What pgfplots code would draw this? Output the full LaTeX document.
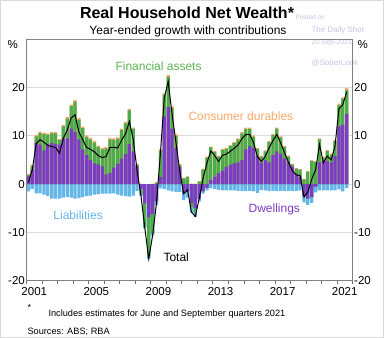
\documentclass[border=0pt]{standalone}
\usepackage{pgfplots}
\usepackage{pgfplotstable}
\pgfplotsset{compat=1.18}
\usepackage{fontspec}
\setmainfont{Liberation Sans}
\definecolor{dwell}{RGB}{125,60,195}
\definecolor{fin}{RGB}{76,172,76}
\definecolor{finlab}{RGB}{90,182,80}
\definecolor{cdur}{RGB}{250,168,105}
\definecolor{liab}{RGB}{100,182,232}
\definecolor{wm}{RGB}{196,196,228}
\pgfplotstableread{
x D F O L T
2001.125 1.6 0.3 0.2 -1.5 0.4
2001.375 3.0 0.8 0.2 -1.0 3.0
2001.625 8.6 1.3 0.3 -1.9 8.4
2001.875 8.2 2.4 0.3 -1.9 9.2
2002.125 7.0 3.4 0.3 -2.2 8.7
2002.375 8.3 1.9 0.3 -2.5 8.0
2002.625 8.5 2.0 0.3 -3.0 7.8
2002.875 8.3 2.2 0.3 -3.0 7.6
2003.125 8.2 0.9 0.3 -3.0 6.4
2003.375 9.4 2.6 0.3 -2.8 9.5
2003.625 9.5 4.1 0.3 -2.7 11.2
2003.875 11.5 4.7 0.3 -2.8 13.7
2004.125 10.8 6.3 0.3 -3.0 14.4
2004.375 9.3 4.1 0.3 -2.9 10.8
2004.625 7.2 4.4 0.3 -2.7 9.2
2004.875 6.0 3.8 0.3 -2.5 7.6
2005.125 5.0 4.3 0.3 -2.4 7.2
2005.375 4.3 4.3 0.3 -2.2 6.7
2005.625 4.1 3.6 0.3 -2.1 5.9
2005.875 3.7 3.5 0.3 -2.0 5.5
2006.125 2.0 5.4 0.3 -2.0 5.7
2006.375 2.3 7.0 0.3 -2.0 7.6
2006.625 3.4 5.8 0.3 -1.9 7.6
2006.875 4.2 5.2 0.3 -2.2 7.5
2007.125 5.3 5.9 0.3 -2.4 9.1
2007.375 6.2 6.4 0.3 -2.5 10.4
2007.625 8.3 7.0 0.3 -2.6 13.0
2007.875 6.8 4.6 0.3 -2.4 9.3
2008.125 3.7 0.3 0.2 -1.4 2.8
2008.375 -1.0 -1.2 0.1 -0.3 -2.4
2008.625 -4.0 -4.8 0.0 -0.4 -9.2
2008.875 -6.9 -8.1 0.0 -0.5 -15.5
2009.125 -6.2 -4.0 0.1 -0.5 -10.6
2009.375 -3.6 0.3 0.1 -0.7 -3.9
2009.625 1.5 5.5 0.2 -0.9 6.3
2009.875 14.0 4.5 0.3 -1.0 17.8
2010.125 16.0 6.3 0.3 -1.3 21.3
2010.375 11.5 4.3 0.3 -1.5 14.6
2010.625 7.5 2.5 0.3 -1.6 8.7
2010.875 3.5 0.5 0.2 -1.6 2.6
2011.125 -1.8 1.2 0.1 -1.5 -2.0
2011.375 -1.5 1.5 0.1 -1.3 -1.2
2011.625 -4.0 -0.8 0.1 -1.1 -5.8
2011.875 -5.0 -0.9 0.1 -0.9 -6.7
2012.125 -3.0 0.5 0.1 -0.6 -3.0
2012.375 -1.5 3.0 0.2 -0.5 1.2
2012.625 -0.8 5.5 0.2 -0.5 4.4
2012.875 0.8 6.8 0.2 -0.9 6.9
2013.125 1.5 5.2 0.2 -1.0 5.9
2013.375 2.3 3.4 0.2 -1.2 4.7
2013.625 2.8 4.3 0.2 -1.3 6.0
2013.875 3.5 3.8 0.2 -1.3 6.2
2014.125 4.0 3.9 0.2 -1.3 6.8
2014.375 4.3 4.2 0.2 -1.3 7.4
2014.625 4.5 4.8 0.2 -1.4 8.1
2014.875 5.0 5.5 0.3 -1.4 9.4
2015.125 7.2 4.2 0.3 -1.4 10.3
2015.375 7.9 3.5 0.3 -1.4 10.3
2015.625 7.5 2.3 0.3 -1.5 8.6
2015.875 5.8 1.5 0.2 -1.8 5.7
2016.125 4.4 1.3 0.2 -1.2 4.7
2016.375 5.0 1.8 0.2 -1.3 5.7
2016.625 4.5 4.2 0.2 -1.4 7.5
2016.875 6.0 4.2 0.2 -1.4 9.0
2017.125 6.8 4.7 0.2 -1.4 10.3
2017.375 6.3 3.4 0.2 -1.4 8.5
2017.625 5.3 2.4 0.2 -1.4 6.5
2017.875 4.6 1.1 0.2 -1.4 4.5
2018.125 3.6 0.5 0.1 -1.4 2.8
2018.375 2.2 1.0 0.1 -1.4 1.9
2018.625 1.5 1.5 0.1 -1.3 1.8
2018.875 -2.5 1.0 0.1 -1.3 -2.7
2019.125 -3.0 2.6 0.1 -1.3 -1.6
2019.375 -2.7 4.8 0.1 -1.2 1.0
2019.625 -0.5 4.6 0.1 -1.2 3.0
2019.875 4.5 4.8 0.2 -1.3 8.2
2020.125 5.0 0.5 0.2 -1.3 4.4
2020.375 4.8 2.1 0.2 -1.3 5.8
2020.625 4.5 1.6 0.2 -1.3 5.0
2020.875 5.8 3.1 0.3 -1.3 7.9
2021.125 12.0 4.4 0.3 -1.1 15.6
2021.375 12.3 5.4 0.3 -1.5 16.5
2021.625 14.5 5.0 0.4 -0.8 19.1
}\wealth
\begin{document}
\begin{tikzpicture}
\useasboundingbox (0,0) rectangle (384pt,338pt);
\draw[gray!30, line width=1pt] (0.5pt,0.5pt) rectangle (383.5pt,337.5pt);
% watermark
\node[wm, font=\fontsize{6.5}{7}\selectfont, anchor=base west] at (292pt,318pt) {Posted on};
\node[wm, font=\fontsize{8}{9}\selectfont, anchor=base west] at (308pt,305pt) {The Daily Shot};
\node[wm, font=\fontsize{7}{8}\selectfont, anchor=base west] at (308pt,293pt) {20-Sep-2021};
\node[wm, font=\fontsize{8}{9}\selectfont, anchor=base west] at (308pt,272pt) {@SoberLook};
% titles
\node[font=\bfseries\fontsize{16}{18}\selectfont, anchor=base] at (187pt,319.7pt) {Real Household Net Wealth*};
\node[font=\fontsize{12}{14}\selectfont, anchor=base] at (188pt,303pt) {Year-ended growth with contributions};
\begin{axis}[
  at={(26.5pt,57.5pt)}, anchor=south west,
  scale only axis, width=326pt, height=241pt,
  xmin=2001, xmax=2022, ymin=-20, ymax=30,
  axis line style={draw=black!50, line width=0.8pt},
  ytick={-20,-10,0,10,20}, ytick pos=left,
  ymajorgrids, grid style={gray!28, line width=0.9pt},
  ytick style={draw=none},
  xtick={2001,...,2022}, xticklabels={}, xtick pos=lower,
  tick align=inside, major tick length=4pt,
  xtick style={black!55, line width=0.6pt},
  extra x ticks={2001.5,2005.5,2009.5,2013.5,2017.5,2021.5},
  extra x tick labels={2001,2005,2009,2013,2017,2021},
  extra x tick style={major tick length=0pt, grid=none},
  tick label style={font=\fontsize{11.5}{13}\selectfont},
  /pgf/number format/assume math mode=true,
  yticklabel style={inner xsep=1.5pt},
  xticklabel style={yshift=-3pt},
  ybar, bar width=0.21, bar shift=0pt,
  clip=false,
]
\addplot[fill=cdur, draw=none, bar shift=0pt] table[x=x, y expr={max(\thisrow{D},0)+max(\thisrow{F},0)+max(\thisrow{O},0)}] {\wealth};
\addplot[fill=fin, draw=none, bar shift=0pt] table[x=x, y expr={max(\thisrow{D},0)+max(\thisrow{F},0)}] {\wealth};
\addplot[fill=dwell, draw=none, bar shift=0pt] table[x=x, y expr={max(\thisrow{D},0)}] {\wealth};
\addplot[fill=liab, draw=none, bar shift=0pt] table[x=x, y expr={min(\thisrow{D},0)+min(\thisrow{F},0)+min(\thisrow{O},0)+min(\thisrow{L},0)}] {\wealth};
\addplot[fill=fin, draw=none, bar shift=0pt] table[x=x, y expr={min(\thisrow{D},0)+min(\thisrow{F},0)}] {\wealth};
\addplot[fill=dwell, draw=none, bar shift=0pt] table[x=x, y expr={min(\thisrow{D},0)}] {\wealth};
\addplot[sharp plot, black, line width=1pt, no marks] table[x=x, y=T] {\wealth};
\node[finlab, font=\fontsize{12}{14}\selectfont, anchor=base west] at (axis cs:2006.51,23.6) {Financial assets};
\node[cdur, font=\fontsize{12}{14}\selectfont, anchor=base west] at (axis cs:2011.21,13.26) {Consumer durables};
\node[liab, font=\fontsize{12}{14}\selectfont, anchor=base west] at (axis cs:2002.51,-7.25) {Liabilities};
\node[dwell, font=\fontsize{12}{14}\selectfont, anchor=base west] at (axis cs:2015.08,-5.8) {Dwellings};
\node[black, font=\fontsize{12}{14}\selectfont, anchor=base west] at (axis cs:2009.6,-16.1) {Total};
\node[font=\fontsize{11.5}{13}\selectfont, anchor=east] at ([xshift=-5pt,yshift=-5pt]rel axis cs:0,1) {\%};
\node[font=\fontsize{11.5}{13}\selectfont, anchor=west] at ([xshift=1.5pt,yshift=-5pt]rel axis cs:1,1) {\%};
\end{axis}
\begin{axis}[
  at={(26.5pt,57.5pt)}, anchor=south west,
  scale only axis, width=326pt, height=241pt,
  xmin=2001, xmax=2022, ymin=-20, ymax=30,
  axis x line=none, axis y line*=right,
  y axis line style={draw=none},
  ytick={-20,-10,0,10,20}, ytick style={draw=none},
  tick label style={font=\fontsize{11.5}{13}\selectfont},
  /pgf/number format/assume math mode=true,
  yticklabel style={inner xsep=1.5pt},
]
\addplot[draw=none] coordinates {(2001,0)};
\end{axis}
\node[font=\fontsize{9}{10}\selectfont, anchor=base west] at (24pt,27pt) {*};
\node[font=\fontsize{9.2}{10}\selectfont, anchor=base west] at (45pt,21.5pt) {Includes estimates for June and September quarters 2021};
\node[font=\fontsize{9.2}{10}\selectfont, anchor=base west] at (24pt,3.5pt) {Sources: ABS; RBA};
\end{tikzpicture}
\end{document}
